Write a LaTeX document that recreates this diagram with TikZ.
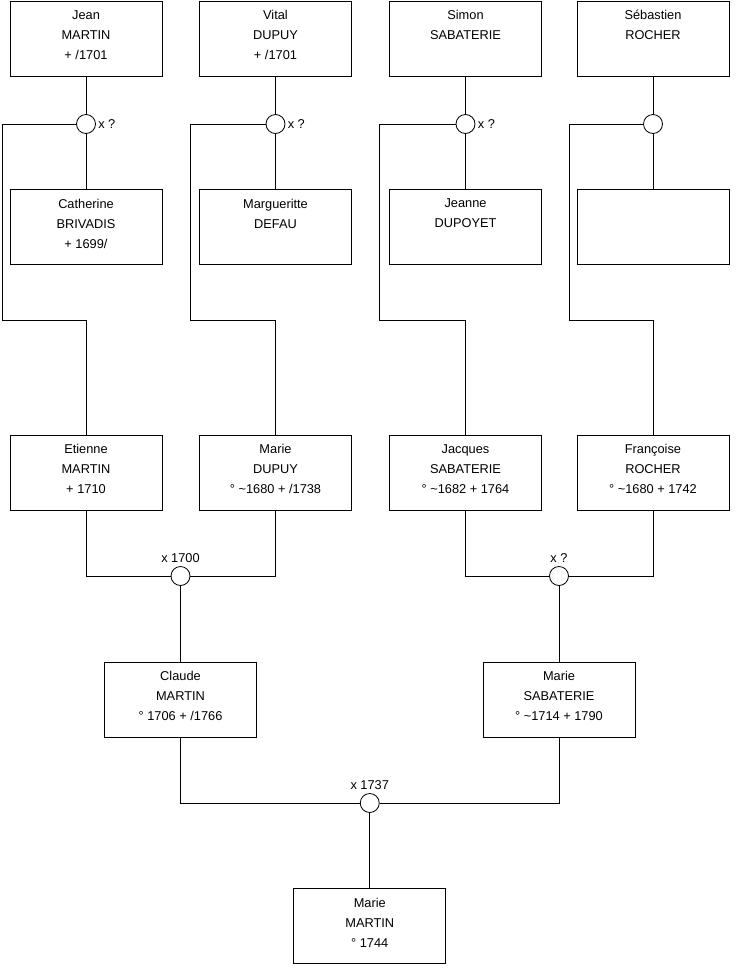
\documentclass[tikz,border=0pt]{standalone}
\usepackage{fontspec}
\setmainfont{Liberation Sans}
\usetikzlibrary{positioning}
\newcommand{\who}[3]{#1\\#2\\#3\rule[-7pt]{0pt}{7pt}}

\begin{document}
\begin{tikzpicture}[x=1pt, y=-1pt, line width=0.8pt,
    every node/.style={font=\fontsize{12.8}{20}\selectfont},
    person/.style={draw, minimum width=152pt, minimum height=75pt, align=center, inner sep=0pt},
    union/.style={circle, draw, minimum size=19pt, inner sep=0pt},
    note/.style={inner sep=1pt}]
  \useasboundingbox (0,0) rectangle (740,975);

  \node[person] (jean) at (86,38.5) {\who{Jean}{MARTIN}{+ /1701}};
  \node[person] (vital) at (275.5,38.5) {\who{Vital}{DUPUY}{+ /1701}};
  \node[person] (simon) at (465.5,38.5) {\who{Simon}{SABATERIE}{}};
  \node[person] (sebastien) at (653,38.5) {\who{Sébastien}{ROCHER}{}};

  \node[person] (catherine) at (86,227) {\who{Catherine}{BRIVADIS}{+ 1699/}};
  \node[person] (margueritte) at (275.5,227) {\who{Margueritte}{DEFAU}{}};
  \node[person] (jeanne) at (465.5,227) {\who{Jeanne}{DUPOYET}{}};
  \node[person] (unknown) at (653,227) {};

  \node[union, label={[note, label distance=1pt]right:x ?}] (ujean) at (86,124) {};
  \node[union, label={[note, label distance=1pt]right:x ?}] (uvital) at (275.5,124) {};
  \node[union, label={[note, label distance=1pt]right:x ?}] (usimon) at (465.5,124) {};
  \node[union] (usebastien) at (653,124) {};

  \node[person] (etienne) at (86,472.5) {\who{Etienne}{MARTIN}{+ 1710}};
  \node[person] (mariedupuy) at (275.5,472.5) {\who{Marie}{DUPUY}{° \textasciitilde1680 + /1738}};
  \node[person] (jacques) at (465.5,472.5) {\who{Jacques}{SABATERIE}{° \textasciitilde1682 + 1764}};
  \node[person] (francoise) at (653,472.5) {\who{Françoise}{ROCHER}{° \textasciitilde1680 + 1742}};

  \node[union, label={[note, label distance=2pt]above:x 1700}] (u1700) at (180.5,576) {};
  \node[union, label={[note, label distance=2pt]above:x ?}] (usab) at (559,576) {};

  \node[person] (claude) at (180.5,699.5) {\who{Claude}{MARTIN}{° 1706 + /1766}};
  \node[person] (mariesab) at (559,699.5) {\who{Marie}{SABATERIE}{° \textasciitilde1714 + 1790}};

  \node[union, label={[note, label distance=2pt]above:x 1737}] (u1737) at (369.75,803) {};
  \node[person] (mariemartin) at (369.75,926) {\who{Marie}{MARTIN}{° 1744}};

  \coordinate (bendjean) at (2,320);
  \coordinate (bendvital) at (190,320);
  \coordinate (bendsimon) at (379,320);
  \coordinate (bendsebastien) at (569,320);

  \draw (jean) -- (ujean) -- (catherine);
  \draw (vital) -- (uvital) -- (margueritte);
  \draw (simon) -- (usimon) -- (jeanne);
  \draw (sebastien) -- (usebastien) -- (unknown);

  \draw (ujean) -| (bendjean) -| (etienne);
  \draw (uvital) -| (bendvital) -| (mariedupuy);
  \draw (usimon) -| (bendsimon) -| (jacques);
  \draw (usebastien) -| (bendsebastien) -| (francoise);

  \draw (etienne) |- (u1700) -| (mariedupuy);
  \draw (u1700) -- (claude);
  \draw (jacques) |- (usab) -| (francoise);
  \draw (usab) -- (mariesab);

  \draw (claude) |- (u1737) -| (mariesab);
  \draw (u1737) -- (mariemartin);
\end{tikzpicture}
\end{document}
